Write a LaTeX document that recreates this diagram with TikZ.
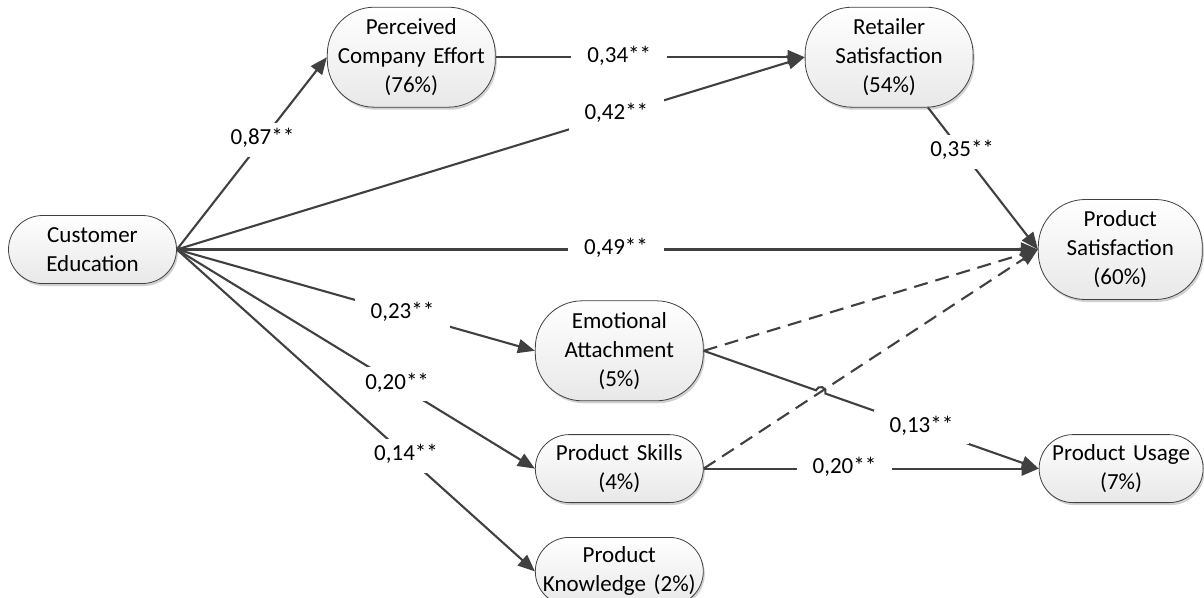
\documentclass[tikz,border=0pt]{standalone}
\usepackage{fontspec}
\setmainfont{Carlito}
\usetikzlibrary{positioning, arrows.meta, shadows, calc}
\definecolor{edgegray}{HTML}{404040}

\begin{document}
\begin{tikzpicture}[x=1pt, y=1pt, font=\fontsize{23}{29}\selectfont]
    \tikzstyle{factor} = [rectangle, draw=edgegray, line width=0.8pt, top color=white, bottom color=black!9,
        text width=160pt, text centered, rounded corners=34pt, minimum width=168pt, minimum height=68pt,
        inner sep=0pt, drop shadow={shadow xshift=1.5pt, shadow yshift=-2.5pt, fill=black, opacity=0.18}]
    \tikzstyle{bigfactor} = [factor, rounded corners=47pt, minimum height=100pt]
    \tikzstyle{line} = [draw=edgegray, line width=2.1pt, -{Triangle[length=17pt, width=14pt]}]
    \tikzstyle{dline} = [line, dash pattern=on 14pt off 8pt]
    \tikzstyle{coef} = [fill=white, inner xsep=16pt, inner ysep=8pt, text height=14pt, text depth=4pt]

    \useasboundingbox (0,0) rectangle (1204,-597);

    \node [factor] (education) at (92.5,-249.5) {Customer\\Education};
    \node [bigfactor, above right=107.5pt and 150pt of education] (effort) {Perceived\\Company Effort\\(76\%)};
    \node [bigfactor, right=309pt of effort] (retailer) {Retailer\\Satisfaction\\(54\%)};
    \node [bigfactor, minimum width=164pt, right=861pt of education] (satisfaction) {Product\\Satisfaction\\(60\%)};
    \node [bigfactor, below right=16.5pt and 358pt of education] (attachment) {Emotional\\Attachment\\(5\%)};
    \node [factor, below=33pt of attachment] (skills) {Product Skills\\(4\%)};
    \node [factor, below=34pt of skills] (knowledge) {Product\\Knowledge (2\%)};
    \node [factor, minimum width=164pt, right=335pt of skills] (usage) {Product Usage\\(7\%)};

    \path [line] (education.east) -- node[coef, pos=.57] {0,87**} (effort.west);
    \path [line] (effort.east) -- node[coef, pos=.4] {0,34**} (retailer.west);
    \path [line] (education.east) -- node[coef, pos=.7] {0,42**} (retailer.west);
    \path [line] (education.east) -- node[coef, pos=.51] {0,49**} (satisfaction.west);
    \path [line] (retailer) -- node[coef, pos=.31] {0,35**} (satisfaction.west);
    \path [line] (education.east) -- node[coef, pos=.63] {0,23**} (attachment.west);
    \path [line] (education.east) -- node[coef, pos=.615] {0,20**} (skills.west);
    \path [line] (education.east) -- node[coef, pos=.64] {0,14**} (knowledge.west);
    \path [dline] (attachment.east) -- (satisfaction.west);
    \path [dline] (skills.east) -- (satisfaction.west);
    \path [line] (skills.east) -- node[coef, pos=.42] {0,20**} (usage.west);
    \coordinate (hop) at (intersection of attachment.east--usage.west and skills.east--satisfaction.west);
    \path [line] (attachment.east) -- ($(hop)!5pt!(attachment.east)$)
        arc[start angle=160.75, end angle=-19.25, radius=5pt] -- node[coef, pos=.45] {0,13**} (usage.west);
\end{tikzpicture}
\end{document}
